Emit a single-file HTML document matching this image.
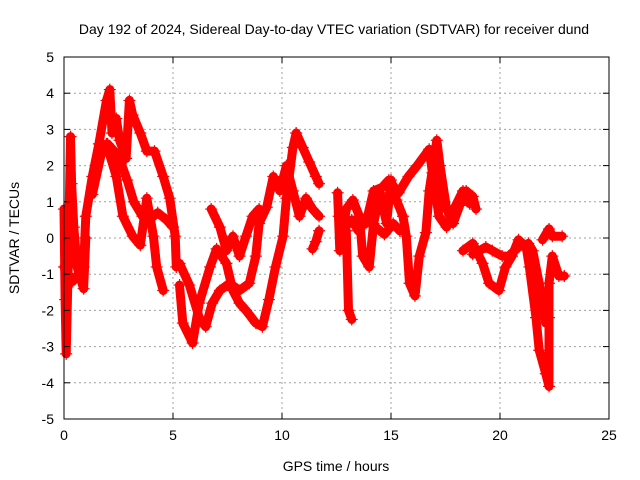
<!DOCTYPE html>
<html><head><meta charset="utf-8">
<style>
html,body{margin:0;padding:0;background:#fff;}
svg{display:block;font-family:"Liberation Sans",sans-serif;}
</style></head>
<body>
<svg id="chart" width="640" height="480" viewBox="0 0 640 480" xmlns="http://www.w3.org/2000/svg">
<rect x="0" y="0" width="640" height="480" fill="#fff"/>
<text x="334" y="34" font-size="14" text-anchor="middle" fill="#000">Day 192 of 2024, Sidereal Day-to-day VTEC variation (SDTVAR) for receiver dund</text>
<text x="336" y="471" font-size="14" text-anchor="middle" fill="#000">GPS time / hours</text>
<text x="19" y="238" font-size="14" text-anchor="middle" fill="#000" transform="rotate(-90 19 238)">SDTVAR / TECUs</text>
<g id="grid"></g>
<g id="series"></g>
<rect x="64" y="57" width="545" height="362" fill="none" stroke="#000" stroke-width="1"/>
<g id="ticks"></g>
</svg>
<script>
const xTicks = [0, 5, 10, 15, 20, 25];
const yTicks = [5, 4, 3, 2, 1, 0, -1, -2, -3, -4, -5];
const t1 = [0,0.4,0.9,1.0,1.3,1.6,1.95,2.1,2.2,2.4,2.55,2.85,3.0,3.15,3.5,3.8,4.15,4.55,4.85,5.1,5.15];
const v1 = [-0.8,-1.2,-0.8,0.6,1.7,2.6,3.8,4.1,2.9,3.3,2.7,2.2,3.8,3.4,2.9,2.4,2.4,1.7,1.1,0.05,-0.8];
const t2 = [1.95,2.4,2.7,3.15,3.5,3.8,4.1,4.25,4.55];
const v2 = [2.6,1.7,0.6,0.05,-0.2,1.1,0.05,-0.8,-1.45];
const t3 = [0,0.05,0.1,0.2,0.3,0.35,0.45,0.6,0.9,1.0];
const v3 = [0.8,-1.7,-3.2,-0.5,2.8,1.5,0.3,-0.8,-1.4,0];
const t4 = [5.3,5.45,5.9,6.2,6.7,7.0,7.45,7.75,8.05,8.35,8.8,9.1,9.4,9.7,10.05,10.2,10.5,10.65,10.95,11.25,11.55,11.7];
const v4 = [-1.3,-2.35,-2.9,-1.8,-0.8,-0.3,-0.7,-1.45,-1.8,-2.0,-2.35,-2.45,-1.7,-0.8,0.05,1.1,2.5,2.9,2.5,2.1,1.7,1.5];
const t5 = [5.3,5.75,6.2,6.5,6.8,7.15,7.6,8.05,8.5,8.8,8.95,9.3,9.6,9.9,10.2,10.5,10.8,11.1,11.4,11.7];
const v5 = [-0.7,-1.3,-2.2,-2.45,-1.8,-1.45,-1.25,-1.45,-1.25,-0.5,0.4,0.85,1.7,1.3,2.0,1.3,0.6,1.1,0.8,0.6];
const t6 = [6.75,7.15,7.45,7.75,8.05,8.35,8.65,8.95];
const v6 = [0.8,0.3,-0.35,0.05,-0.5,0.05,0.6,0.8];
const t7 = [11.4,11.55,11.7];
const v7 = [-0.3,-0.1,0.2];
const t8 = [12.55,12.65,12.95,13.25,13.55,13.7,14.0,14.2,14.5,14.8,15.0,15.25,15.55,15.7,15.85,16.1,16.3,16.6,16.75,17.1,17.25,17.55,17.85,18.15,18.45,18.75,18.9];
const v8 = [1.25,-0.35,0.8,1.05,0.6,-0.5,-0.8,0.4,1.25,0.4,1.6,1.05,0.6,0.05,-1.25,-1.6,-0.5,0.15,1.3,2.7,2.0,0.8,0.4,0.9,1.3,1.15,0.8];
const t9 = [12.95,13.05,13.2];
const v9 = [0.2,-2.0,-2.25];
const t10 = [13.85,14.2,14.6,14.9,15.35,15.8,16.2,16.75,16.9,17.2,17.55,17.85,18.3,18.6];
const v10 = [0.4,1.3,1.4,1.6,1.25,1.7,2.0,2.45,1.8,0.6,0.3,0.75,1.3,0.95];
const t11 = [18.3,18.75,19.2,19.5,19.95,20.25,20.55,20.85,21.2,21.35,21.65,21.8,22.1,22.25,22.25,22.25,22.4,22.7,22.95];
const v11 = [-0.35,-0.15,-0.7,-1.25,-1.45,-0.8,-0.5,-0.05,-0.25,-0.8,-2.2,-3.1,-3.75,-4.1,-2.2,-1.25,-0.5,-1.05,-1.05];
const t12 = [18.75,19.35,19.65,20.1,20.4,20.85,21.3,21.5,21.8,22.1];
const v12 = [-0.45,-0.25,-0.35,-0.5,-0.5,-0.25,-0.15,-0.35,-1.25,-2.35];
const t13 = [21.95,22.25,22.4,22.85];
const v13 = [-0.05,0.25,0.05,0.05];
const t14 = [1.3,1.7,2.0,2.3,2.6,2.9,3.2,3.6,3.9,4.3,4.7,5.0];
const v14 = [1.2,2.3,2.6,2.4,2.1,1.6,1.0,0.6,0.5,0.7,0.5,0.3];
const t15 = [12.6,12.9,13.2,13.5,13.9,14.3,14.7,15.1,15.4];
const v15 = [0.6,0.3,0.5,0.2,0.6,0.3,0.1,0.4,0.2];
const seriesT = [t1,t2,t3,t4,t5,t6,t7,t8,t9,t10,t11,t12,t13,t14,t15];
const seriesV = [v1,v2,v3,v4,v5,v6,v7,v8,v9,v10,v11,v12,v13,v14,v15];

const NS = "http://www.w3.org/2000/svg";
const X0 = 64, X1 = 609, Y0 = 419, Y1 = 57;
function xs(t){ return X0 + (t - 0) / 25 * (X1 - X0); }
function ys(v){ return Y0 - (v + 5) / 10 * (Y0 - Y1); }
function mk(tag, attrs){ const e = document.createElementNS(NS, tag); for (const k in attrs) e.setAttribute(k, attrs[k]); return e; }

const grid = document.getElementById('grid');
const ticks = document.getElementById('ticks');
xTicks.forEach(t => {
  const x = xs(t);
  if (t > 0 && t < 25) {
    const g = mk('line', {x1:x, x2:x, y1:Y1, y2:Y0, stroke:'#a0a0a0', 'stroke-dasharray':'2,3', 'stroke-width':1});
    
    
    grid.appendChild(g);
  }
  const tk = mk('line', {x1:x, x2:x, y1:Y0, y2:Y0-6, stroke:'#000'});
  
  
  ticks.appendChild(tk);
  const tk2 = mk('line', {x1:x, x2:x, y1:Y1, y2:Y1+6, stroke:'#000'});
  
  
  ticks.appendChild(tk2);
  const lb = mk('text', {x:x, y:Y0+21, 'font-size':14, 'text-anchor':'middle', fill:'#000'});
  lb.textContent = String(t);
  
  
  ticks.appendChild(lb);
});
yTicks.forEach(v => {
  const y = ys(v);
  if (v > -5 && v < 5) {
    const g = mk('line', {x1:X0, x2:X1, y1:y, y2:y, stroke:'#a0a0a0', 'stroke-dasharray':'2,3', 'stroke-width':1});
    
    
    grid.appendChild(g);
  }
  const tk = mk('line', {x1:X0, x2:X0+6, y1:y, y2:y, stroke:'#000'});
  
  
  ticks.appendChild(tk);
  const tk2 = mk('line', {x1:X1, x2:X1-6, y1:y, y2:y, stroke:'#000'});
  
  
  ticks.appendChild(tk2);
  const lb = mk('text', {x:X0-10, y:y+5, 'font-size':14, 'text-anchor':'end', fill:'#000'});
  lb.textContent = String(v);
  
  
  ticks.appendChild(lb);
});

const sg = document.getElementById('series');
seriesT.forEach((ts, i) => {
  const vs = seriesV[i];
  const pts = ts.map((t, j) => xs(t).toFixed(1) + ',' + ys(vs[j]).toFixed(1)).join(' ');
  const pl = mk('polyline', {points:pts, fill:'none', stroke:'#ff0000', 'stroke-width':9, 'stroke-linejoin':'round', 'stroke-linecap':'round'});
  
  
  sg.appendChild(pl);
  ts.forEach((t, j) => {
    const x = xs(t), y = ys(vs[j]);
    const p = mk('path', {d:`M${x-6},${y}H${x+6}M${x},${y-6}V${y+6}`, stroke:'#ff0000', 'stroke-width':1.2, fill:'none'});
    
    
    sg.appendChild(p);
  });
});
</script>
</body></html>
